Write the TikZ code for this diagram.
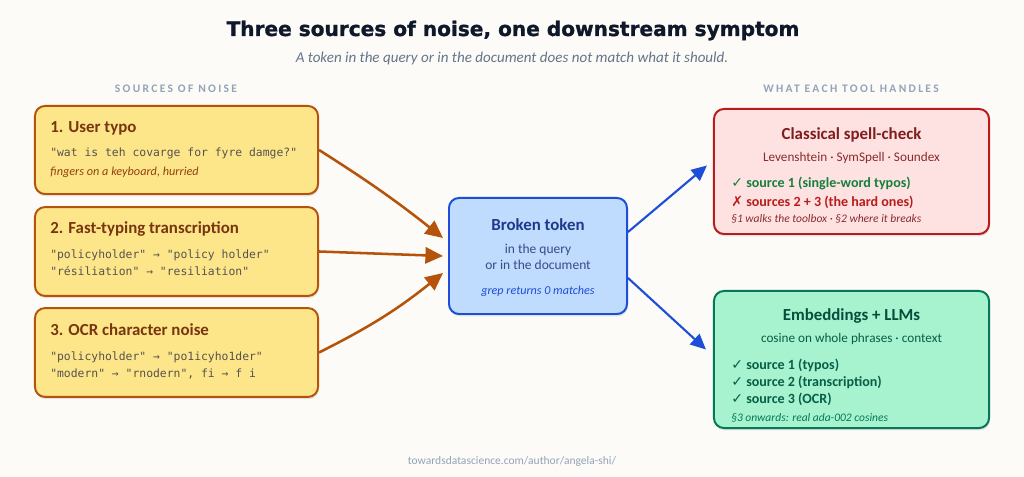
\documentclass[tikz,border=0pt]{standalone}
\usepackage{fontspec}
\setmainfont{Carlito}
\newfontfamily\titlefont[FakeBold=1.2]{DejaVu Sans}
\newfontfamily\codefont{DejaVu Sans Mono}
\newfontfamily\symfont{DejaVu Sans}
\newfontfamily\labelfont[LetterSpace=20]{Carlito}
\usetikzlibrary{arrows.meta,shadows,calc}
\definecolor{bgc}{HTML}{FCFBF7}
\definecolor{ttl}{HTML}{0F172A}
\definecolor{subc}{HTML}{64748B}
\definecolor{lblc}{HTML}{94A3B8}
\definecolor{ofill}{HTML}{FDE68A}
\definecolor{oline}{HTML}{B45309}
\definecolor{otitle}{HTML}{78350F}
\definecolor{ocode}{HTML}{57534E}
\definecolor{oital}{HTML}{92400E}
\definecolor{bfill}{HTML}{BFDBFE}
\definecolor{bline}{HTML}{1D4ED8}
\definecolor{btitle}{HTML}{1E3A8A}
\definecolor{btext}{HTML}{3B4A86}
\definecolor{rfill}{HTML}{FEE2E2}
\definecolor{rline}{HTML}{B91C1C}
\definecolor{rtitle}{HTML}{7F1D1D}
\definecolor{rtext}{HTML}{8B2A2A}
\definecolor{okgreen}{HTML}{15803D}
\definecolor{gfill}{HTML}{A7F3D0}
\definecolor{gline}{HTML}{047857}
\definecolor{gtitle}{HTML}{064E3B}
\definecolor{gtext}{HTML}{065F46}
\definecolor{gital}{HTML}{047857}
\tikzset{
  card/.style={draw, line width=1.4pt, rounded corners=0.25cm, inner sep=0pt,
    drop shadow={shadow xshift=0.6pt, shadow yshift=-1.6pt, opacity=0.10, fill=black}},
  srccard/.style={card, fill=ofill, draw=oline, minimum width=7.075cm, minimum height=2.22cm},
  txt/.style={inner sep=0pt, anchor=base west},
  ctxt/.style={inner sep=0pt, anchor=base},
  cardtitle/.style={font=\fontsize{12pt}{13pt}\selectfont\bfseries},
  codeline/.style={txt, text=ocode, font=\codefont\fontsize{8.1pt}{9pt}\selectfont},
  oarrow/.style={draw=oline, line width=1.8pt, -{Triangle[length=12.5pt,width=11.5pt]}},
  barrow/.style={draw=bline, line width=1.5pt, -{Triangle[length=11pt,width=10pt]}},
}
\begin{document}
\begin{tikzpicture}[x=0.025cm,y=-0.025cm]
\fill[bgc] (0,0) rectangle (1024,477);
\useasboundingbox (0,0) rectangle (1024,477);

% title
\node[ctxt, text=ttl, font=\titlefont\bfseries\fontsize{14.3pt}{16pt}\selectfont] (title) at (513,36) {Three sources of noise, one downstream symptom};
\node[ctxt, text=subc, font=\itshape\fontsize{10.7pt}{12pt}\selectfont] (subtitle) at (512,63) {A token in the query or in the document does not match what it should.};

% section labels
\node[ctxt, text=lblc, font=\labelfont\bfseries\fontsize{8.2pt}{9pt}\selectfont] (lblL) at (176,93) {SOURCES OF NOISE};
\node[ctxt, text=lblc, font=\labelfont\bfseries\fontsize{8.2pt}{9pt}\selectfont] (lblR) at (851,93) {WHAT EACH TOOL HANDLES};

% source cards
\node[srccard, minimum height=2.2cm] (b1) at (176.5,150) {};
\node[srccard] (b2) at (176.5,251.5) {};
\node[srccard] (b3) at (176.5,352.5) {};

\node[txt, cardtitle, text=otitle] (b1t) at (50,133) {1. User typo};
\node[codeline] (b1c) at (50,157) {"wat is teh covarge for fyre damge?"};
\node[txt, text=oital, font=\itshape\fontsize{8.7pt}{10pt}\selectfont] (b1i) at (50,176) {fingers on a keyboard, hurried};

\node[txt, cardtitle, text=otitle] (b2t) at (50,234) {2. Fast-typing transcription};
\node[codeline] (b2c) at (50,259) {"policyholder" → "policy holder"};
\node[codeline] (b2d) at (50,276) {"résiliation" → "resiliation"};

\node[txt, cardtitle, text=otitle] (b3t) at (50,336) {3. OCR character noise};
\node[codeline] (b3c) at (50,361) {"policyholder" → "po1icyho1der"};
\node[codeline] (b3d) at (50,378) {"modern" → "rnodern", fi → f i};

% broken token
\node[card, fill=bfill, draw=bline, minimum width=4.45cm, minimum height=2.9cm] (broken) at (538,256) {};
\node[ctxt, cardtitle, text=btitle] (brt) at (538,231) {Broken token};
\node[ctxt, text=btext, font=\fontsize{9.6pt}{11pt}\selectfont] (br1) at (538,254) {in the query};
\node[ctxt, text=btext, font=\fontsize{9.6pt}{11pt}\selectfont] (br2) at (538,270) {or in the document};
\node[ctxt, text=bline, font=\itshape\fontsize{8.6pt}{10pt}\selectfont] (br3) at (538,295) {grep returns 0 matches};

% classical card
\node[card, fill=rfill, draw=rline, minimum width=6.875cm, minimum height=3.125cm] (red) at (851.5,171.5) {};
\node[ctxt, cardtitle, text=rtitle] (rt) at (851.5,140) {Classical spell-check};
\node[ctxt, text=rtext, font=\fontsize{9.4pt}{10pt}\selectfont] (r1) at (851.5,162) {Levenshtein · SymSpell · Soundex};
\node[txt, text=okgreen, font=\bfseries\fontsize{10pt}{11pt}\selectfont] (r2) at (731,188) {{\symfont\mdseries ✓} source 1 (single-word typos)};
\node[txt, text=rline, font=\bfseries\fontsize{10pt}{11pt}\selectfont] (r3) at (731,207) {{\symfont\mdseries ✗} sources 2 + 3 (the hard ones)};
\node[txt, text=rtext, font=\itshape\fontsize{8.2pt}{9pt}\selectfont] (r4) at (731,223) {§1 walks the toolbox · §2 where it breaks};

% embeddings card
\node[card, fill=gfill, draw=gline, minimum width=6.875cm, minimum height=3.425cm] (green) at (851.5,359.5) {};
\node[ctxt, cardtitle, text=gtitle] (gt) at (851.5,321) {Embeddings + LLMs};
\node[ctxt, text=gtext, font=\fontsize{9.4pt}{10pt}\selectfont] (g1) at (851.5,343) {cosine on whole phrases · context};
\node[txt, text=gtext, font=\bfseries\fontsize{10pt}{11pt}\selectfont] (g2) at (731,370) {{\symfont\mdseries ✓} source 1 (typos)};
\node[txt, text=gtext, font=\bfseries\fontsize{10pt}{11pt}\selectfont] (g3) at (731,387) {{\symfont\mdseries ✓} source 2 (transcription)};
\node[txt, text=gtext, font=\bfseries\fontsize{10pt}{11pt}\selectfont] (g4) at (731,404) {{\symfont\mdseries ✓} source 3 (OCR)};
\node[txt, text=gital, font=\itshape\fontsize{8.2pt}{9pt}\selectfont] (g5) at (731,422) {§3 onwards: real ada-002 cosines};

% footer
\node[ctxt, text=lblc, font=\fontsize{8.2pt}{10pt}\selectfont] (footer) at (512,464) {towardsdatascience.com/author/angela-shi/};

% connector end points
\coordinate (in1) at ($(broken.west)+(-5,-18)$);
\coordinate (in2) at ($(broken.west)+(-5,0)$);
\coordinate (in3) at ($(broken.west)+(-5,17)$);
\coordinate (o1) at ($(broken.east)+(0,-24)$);
\coordinate (o2) at ($(broken.east)+(0,22)$);
\coordinate (t1) at ($(red.west)+(-6,-6)$);
\coordinate (t2) at ($(green.west)+(-7,-10)$);

\draw[oarrow] (b1.east) to[bend left=3] (in1);
\draw[oarrow] (b2.east) -- (in2);
\draw[oarrow] (b3.east) to[bend right=6] (in3);
\draw[barrow] (o1) -- (t1);
\draw[barrow] (o2) -- (t2);
\end{tikzpicture}
\end{document}
